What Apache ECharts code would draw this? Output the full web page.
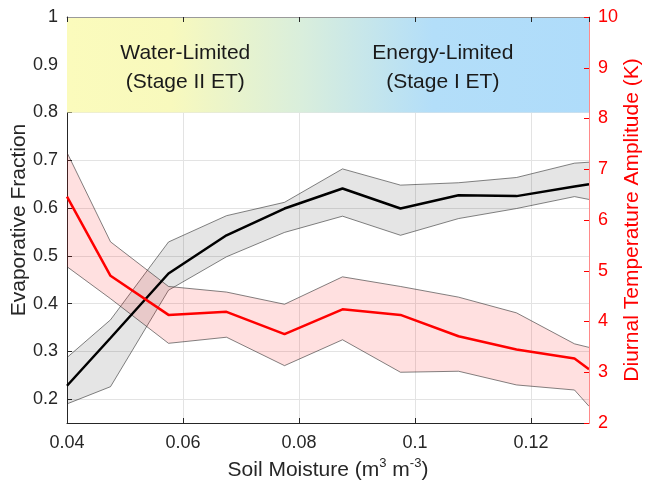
<!DOCTYPE html>
<html>
<head>
<meta charset="utf-8">
<script src="https://cdn.jsdelivr.net/npm/echarts@6/dist/echarts.min.js"></script>
<style>
  html, body { margin: 0; padding: 0; background: #fff; }
  #chart { width: 646px; height: 487px; }
</style>
</head>
<body>
<div id="chart"></div>
<script>
// Soil moisture bins (m3 m-3)
const soilMoisture = [0.04, 0.0475, 0.0575, 0.0675, 0.0775, 0.0875, 0.0975, 0.1075, 0.1175, 0.1275, 0.13];

// Evaporative fraction: mean and spread bounds
const efMean  = [0.228, 0.328, 0.463, 0.543, 0.599, 0.641, 0.599, 0.627, 0.625, 0.645, 0.650];
const efUpper = [0.287, 0.366, 0.529, 0.584, 0.612, 0.682, 0.648, 0.653, 0.664, 0.694, 0.696];
const efLower = [0.190, 0.226, 0.428, 0.498, 0.549, 0.583, 0.543, 0.578, 0.599, 0.624, 0.618];

// Diurnal temperature amplitude (K): mean and spread bounds
const dtaMean  = [6.46, 4.90, 4.13, 4.19, 3.75, 4.24, 4.13, 3.71, 3.45, 3.27, 3.06];
const dtaUpper = [7.33, 5.57, 4.69, 4.58, 4.34, 4.88, 4.69, 4.48, 4.17, 3.56, 3.49];
const dtaLower = [5.08, 4.45, 3.57, 3.69, 3.13, 3.64, 3.00, 3.02, 2.75, 2.65, 2.33];

// Axis ticks
const efTicks = [0.2, 0.3, 0.4, 0.5, 0.6, 0.7, 0.8, 0.9, 1];
const regimeLabels = [
  { text: 'Water-Limited\n(Stage II ET)', at: [0.0604, 0.893] },
  { text: 'Energy-Limited\n(Stage I ET)', at: [0.1048, 0.893] }
];

const FONT = '"Liberation Sans", Arial, Helvetica, sans-serif';
const AXIS_DARK = '#262626';
const TICK_SIZE = 18;
const TITLE_SIZE = 21;

const pairs = (ys) => soilMoisture.map((x, i) => [x, ys[i]]);

// Shaded spread between lower and upper bounds, drawn as one polygon
function spreadBand(lo, hi, fill, yAxisIndex, z) {
  return {
    type: 'custom', yAxisIndex, z, silent: true, clip: true,
    data: soilMoisture.map((x, i) => [x, lo[i], hi[i]]),
    encode: { x: 0, y: [1, 2] },
    renderItem: (params, api) => {
      if (params.dataIndex !== 0) return;
      const top = soilMoisture.map((x, i) => api.coord([x, hi[i]]));
      const bottom = soilMoisture.map((x, i) => api.coord([x, lo[i]]));
      const edge = { stroke: 'rgba(45,45,45,0.85)', lineWidth: 0.7, fill: null };
      return {
        type: 'group',
        children: [
          { type: 'polygon', shape: { points: top.concat(bottom.slice().reverse()) }, style: { fill } },
          { type: 'polyline', shape: { points: top }, style: edge },
          { type: 'polyline', shape: { points: bottom }, style: edge }
        ]
      };
    }
  };
}

const chart = echarts.init(document.getElementById('chart'), null, { renderer: 'canvas' });

const option = {
  backgroundColor: '#fff',
  animation: false,
  textStyle: { fontFamily: FONT },
  grid: { left: 67, right: 57, top: 17, bottom: 64, containLabel: false, outerBoundsMode: 'none' },
  xAxis: [{
    type: 'value', min: 0.04, max: 0.13, interval: 0.02,
    name: '{a|Soil Moisture (m}{s|3}{a| m}{s|-3}{a|)}',
    nameLocation: 'middle', nameGap: 30,
    nameTextStyle: {
      rich: {
        a: { fontSize: TITLE_SIZE, color: '#262626', fontFamily: FONT, lineHeight: 24, verticalAlign: 'bottom' },
        s: { fontSize: 13, color: '#262626', fontFamily: FONT, lineHeight: 24, verticalAlign: 'top' }
      }
    },
    axisLine: { show: true, onZero: false, lineStyle: { color: AXIS_DARK, width: 1 } },
    axisTick: { show: true, inside: true, length: 5, lineStyle: { color: AXIS_DARK } },
    axisLabel: { fontSize: TICK_SIZE, color: '#262626', margin: 11, showMaxLabel: false, fontFamily: FONT },
    splitLine: { show: true, lineStyle: { color: '#e3e3e3', width: 1 } }
  }, {
    type: 'value', min: 0.04, max: 0.13, interval: 0.02, position: 'top', z: 10,
    axisLine: { show: true, onZero: false, lineStyle: { color: '#9a9a9a', width: 1 } },
    axisTick: { show: true, inside: true, length: 5, lineStyle: { color: AXIS_DARK } },
    axisLabel: { show: false }, splitLine: { show: false }
  }],
  yAxis: [{
    type: 'value', min: 0.15, max: 1,
    name: 'Evaporative Fraction', nameLocation: 'middle', nameGap: 37, nameMoveOverlap: false,
    nameTextStyle: { fontSize: TITLE_SIZE, color: '#262626', fontFamily: FONT },
    axisLine: { show: true, onZero: false, lineStyle: { color: AXIS_DARK, width: 1 } },
    axisTick: { show: true, inside: true, length: 5, customValues: efTicks, lineStyle: { color: AXIS_DARK } },
    axisLabel: { fontSize: TICK_SIZE, color: '#262626', margin: 9, customValues: efTicks, fontFamily: FONT },
    splitLine: { show: true, lineStyle: { color: '#e3e3e3', width: 1 } }
  }, {
    type: 'value', min: 2, max: 10, interval: 1, position: 'right', z: 10,
    name: 'Diurnal Temperature Amplitude (K)', nameLocation: 'middle', nameGap: 33, nameRotate: 90,
    nameMoveOverlap: false,
    nameTextStyle: { fontSize: TITLE_SIZE, color: '#ff0000', fontFamily: FONT },
    axisLine: { show: true, onZero: false, lineStyle: { color: '#ff8a8a', width: 1 } },
    axisTick: { show: true, inside: true, length: 5, lineStyle: { color: '#ff0000' } },
    axisLabel: { fontSize: TICK_SIZE, color: '#ff0000', margin: 9, fontFamily: FONT },
    splitLine: { show: false }
  }],
  series: [
    // Regime band across the top of the axes
    {
      type: 'line', xAxisIndex: 0, yAxisIndex: 0, data: [], silent: true,
      markArea: {
        silent: true,
        itemStyle: {
          color: new echarts.graphic.LinearGradient(0, 0, 1, 0, [
            { offset: 0.0, color: '#fbfbbc' },
            { offset: 0.2, color: '#f8f9bd' },
            { offset: 0.45, color: '#d9eedc' },
            { offset: 0.7, color: '#b3def9' },
            { offset: 1.0, color: '#afdcfa' }
          ])
        },
        data: [[{ coord: [0.04, 0.8] }, { coord: [0.13, 1] }]]
      }
    },
    spreadBand(efLower, efUpper, 'rgba(0,0,0,0.1)', 0, 2),
    spreadBand(dtaLower, dtaUpper, 'rgba(255,0,0,0.12)', 1, 3),
    // Mean curves
    {
      type: 'line', yAxisIndex: 0, data: pairs(efMean), symbol: 'none',
      lineStyle: { color: '#000', width: 2.5 }, z: 4
    },
    {
      type: 'line', yAxisIndex: 1, data: pairs(dtaMean), symbol: 'none',
      lineStyle: { color: '#ff0000', width: 2.5 }, z: 5
    }
  ]
};

chart.setOption(option);

// Regime labels placed at data coordinates
chart.setOption({
  graphic: regimeLabels.map((r) => {
    const p = chart.convertToPixel({ xAxisIndex: 0, yAxisIndex: 0 }, r.at);
    return {
      type: 'text', x: p[0], y: p[1], z: 10, silent: true,
      style: {
        text: r.text, fontSize: TITLE_SIZE, fontFamily: FONT, fill: '#1a1a1a',
        align: 'center', verticalAlign: 'middle', lineHeight: 29
      }
    };
  })
});
</script>
</body>
</html>
